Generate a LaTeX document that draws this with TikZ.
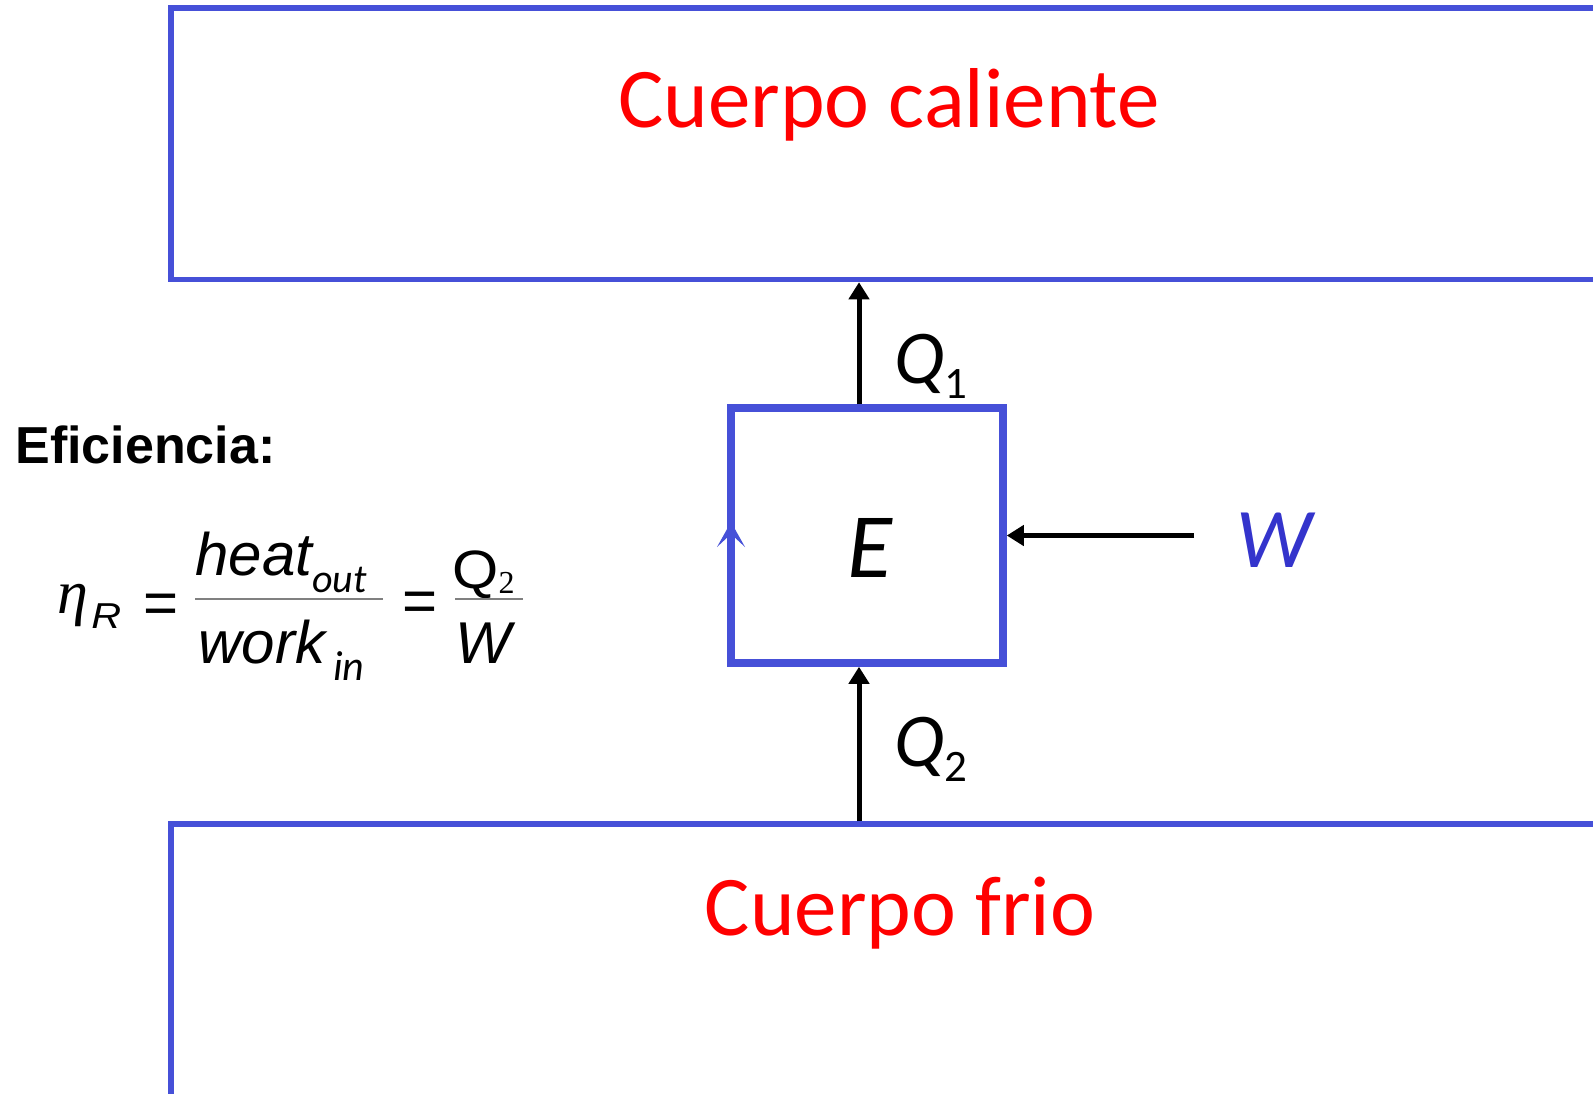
\documentclass[tikz,border=0pt]{standalone}
\usepackage{fontspec}
\usepackage{graphicx}
\setmainfont{Carlito}
\newfontfamily\arial{Liberation Sans}
\newfontfamily\tnr{Liberation Serif}
\usetikzlibrary{arrows.meta}
\definecolor{boxblue}{HTML}{4650D8}
\definecolor{wblue}{HTML}{3434CC}
\definecolor{bargray}{HTML}{808080}
\newcommand{\calsub}[2]{{\normalfont\itshape\fontsize{#1}{#1}\selectfont #2}}
\begin{document}
\begin{tikzpicture}[x=0.5pt,y=-0.5pt,
  bigbox/.style={draw=boxblue, line width=2.75pt, inner sep=0pt, minimum width=764.5pt},
  enginebox/.style={draw=boxblue, line width=3.75pt, inner sep=0pt, minimum width=136pt, minimum height=127.5pt},
  flow/.style={line width=2.5pt, -{Triangle[length=8.5pt,width=10pt]}},
  bodylabel/.style={anchor=base, inner sep=0pt, text=red, font=\fontsize{42.5}{50}\selectfont},
  qlabel/.style={anchor=base west, inner sep=0pt, font=\fontsize{38}{44}\selectfont\itshape},
  formula/.style={inner sep=0pt, font=\arial\itshape\fontsize{30}{36}\selectfont},
  fracbar/.style={draw=bargray, line width=1pt}]
\useasboundingbox (0,0) rectangle (1593,1093);

% reservoirs
\node[bigbox, minimum height=135.75pt] (hot) at (935.5,143.75) {};
\node[bigbox, minimum height=188pt] (cold) at (935.5,1012) {};
\node[bodylabel] (hotlabel) at (889,127) {Cuerpo caliente};
\node[bodylabel] (coldlabel) at (900,935) {Cuerpo frio};

% engine
\node[enginebox] (ebox) at (867,535.5) {};
\node[anchor=base, inner sep=0pt, font=\fontsize{46}{52}\selectfont\itshape] (elabel) at (870,577) {E};
\fill[boxblue] (731,522) -- (717,547) -- (731,534) -- (745,547) -- cycle;

% heat flows
\coordinate (ax) at (859,0);
\draw[flow] (ax |- ebox.north) -- (ax |- hot.south);
\draw[flow] (ax |- cold.north) -- (ax |- ebox.south);
\node[qlabel] (q1) at (894,383) {Q\raisebox{-7.5pt}{\upshape\fontsize{22.5}{26}\selectfont 1}};
\node[qlabel] (q2) at (894,766) {Q\raisebox{-7.5pt}{\upshape\fontsize{22.5}{26}\selectfont 2}};

% work
\coordinate (wtail) at (1194,535.5);
\draw[flow] (wtail) -- (ebox.east);
\node[anchor=base, inner sep=0pt, text=wblue, font=\fontsize{42.5}{48}\selectfont\itshape] (wlabel) at (1274,567) {W};

% efficiency
\node[anchor=base west, inner sep=0pt, font=\arial\bfseries\fontsize{26}{30}\selectfont] (efic) at (15,463) {Eficiencia:};
\node[anchor=base west, inner sep=0pt, font=\tnr\itshape\fontsize{31}{36}\selectfont] (eta) at (57,613) {η};
\node[anchor=base west, inner sep=0pt, font=\arial\itshape] (etaR) at (91,628) {\scalebox{1.15}[1]{\fontsize{18}{18}\selectfont R}};
\node[anchor=base, inner sep=0pt, font=\arial\fontsize{30}{36}\selectfont] (eq1) at (161.5,623) {=};
\node[formula, anchor=base west] (num1) at (195,575) {heat\raisebox{-8.5pt}{\calsub{20}{out}}};
\node[formula, anchor=base west] (den1) at (198,663) {work\hspace{4pt}\raisebox{-8.5pt}{\calsub{21}{in}}};
\draw[fracbar] (195,599) -- (383,599);
\node[anchor=base, inner sep=0pt, font=\arial\fontsize{30}{36}\selectfont] (eq2) at (420,621.5) {=};
\node[anchor=base west, inner sep=0pt, font=\arial] (num2) at (452,588) {\scalebox{1.1}[1]{\fontsize{27}{27}\selectfont Q}\raisebox{-2.5pt}{\tnr\fontsize{16}{16}\selectfont 2}};
\node[anchor=base, inner sep=0pt, font=\arial\itshape\fontsize{29.5}{34}\selectfont] (den2) at (483,663) {W};
\draw[fracbar] (455,599) -- (523,599);
\end{tikzpicture}
\end{document}
